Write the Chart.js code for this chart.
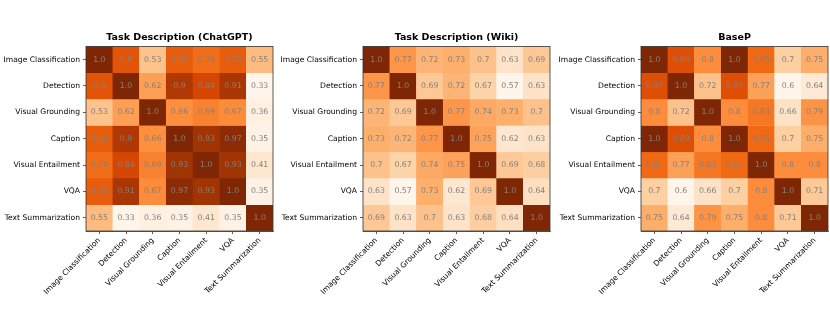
<!DOCTYPE html>
<html>
<head>
<meta charset="utf-8">
<script src="https://cdn.jsdelivr.net/npm/chart.js@4.4.0/dist/chart.umd.min.js"></script>
<style>
    html, body { margin: 0; padding: 0; background: #fff; overflow: hidden; }
    .panel { position: absolute; top: 0; }
</style>
</head>
<body>
<canvas id="chatgpt-chart" class="panel" width="275" height="310" style="left:0px"></canvas>
<canvas id="wiki-chart" class="panel" width="275" height="310" style="left:277px"></canvas>
<canvas id="basep-chart" class="panel" width="275" height="310" style="left:555px"></canvas>
<script>
const tasks = ['Image Classification', 'Detection', 'Visual Grounding', 'Caption', 'Visual Entailment', 'VQA', 'Text Summarization'];

const chatgptValues = [
    [1.0, 0.8, 0.53, 0.78, 0.74, 0.78, 0.55],
    [0.8, 1.0, 0.62, 0.9, 0.84, 0.91, 0.33],
    [0.53, 0.62, 1.0, 0.66, 0.69, 0.67, 0.36],
    [0.78, 0.9, 0.66, 1.0, 0.93, 0.97, 0.35],
    [0.74, 0.84, 0.69, 0.93, 1.0, 0.93, 0.41],
    [0.78, 0.91, 0.67, 0.97, 0.93, 1.0, 0.35],
    [0.55, 0.33, 0.36, 0.35, 0.41, 0.35, 1.0]
];

const wikiValues = [
    [1.0, 0.77, 0.72, 0.73, 0.7, 0.63, 0.69],
    [0.77, 1.0, 0.69, 0.72, 0.67, 0.57, 0.63],
    [0.72, 0.69, 1.0, 0.77, 0.74, 0.73, 0.7],
    [0.73, 0.72, 0.77, 1.0, 0.75, 0.62, 0.63],
    [0.7, 0.67, 0.74, 0.75, 1.0, 0.69, 0.68],
    [0.63, 0.57, 0.73, 0.62, 0.69, 1.0, 0.64],
    [0.69, 0.63, 0.7, 0.63, 0.68, 0.64, 1.0]
];

const basepValues = [
    [1.0, 0.89, 0.8, 1.0, 0.85, 0.7, 0.75],
    [0.89, 1.0, 0.72, 0.89, 0.77, 0.6, 0.64],
    [0.8, 0.72, 1.0, 0.8, 0.83, 0.66, 0.79],
    [1.0, 0.89, 0.8, 1.0, 0.85, 0.7, 0.75],
    [0.85, 0.77, 0.83, 0.85, 1.0, 0.8, 0.8],
    [0.7, 0.6, 0.66, 0.7, 0.8, 1.0, 0.71],
    [0.75, 0.64, 0.79, 0.75, 0.8, 0.71, 1.0]
];

const panelTitles = ['Task Description (ChatGPT)', 'Task Description (Wiki)', 'BaseP'];

// matplotlib "Oranges" colormap stops
const orangeStops = ['#fff5eb', '#fee6ce', '#fdd0a2', '#fdae6b', '#fd8d3c', '#f16913', '#d94801', '#a63603', '#7f2704'];

function hexToRgb(h) {
    return [parseInt(h.slice(1, 3), 16), parseInt(h.slice(3, 5), 16), parseInt(h.slice(5, 7), 16)];
}

function oranges(t) {
    t = Math.max(0, Math.min(1, t));
    const pos = t * (orangeStops.length - 1);
    const i = Math.min(Math.floor(pos), orangeStops.length - 2);
    const f = pos - i;
    const a = hexToRgb(orangeStops[i]);
    const b = hexToRgb(orangeStops[i + 1]);
    const c = a.map((v, k) => Math.round(v + (b[k] - v) * f));
    return `rgb(${c[0]}, ${c[1]}, ${c[2]})`;
}

function formatValue(v) {
    return Number.isInteger(v) ? v.toFixed(1) : String(v);
}

Chart.defaults.font.family = "'DejaVu Sans', sans-serif";
Chart.defaults.color = '#000';

// cell numbers + top/right frame
const cellTextPlugin = {
    id: 'cellText',
    afterDatasetsDraw(chart, args, opts) {
        const { ctx, chartArea, scales } = chart;
        const matrix = opts.matrix;
        ctx.save();
        ctx.font = "7.8px 'DejaVu Sans', sans-serif";
        ctx.fillStyle = '#808080';
        ctx.textAlign = 'center';
        ctx.textBaseline = 'middle';
        matrix.forEach((row, r) => {
            row.forEach((v, c) => {
                const x = scales.x.getPixelForValue(c);
                const y = scales.y.getPixelForValue(r + 0.5);
                ctx.fillText(formatValue(v), x, y);
            });
        });
        ctx.strokeStyle = '#333';
        ctx.lineWidth = 0.8;
        ctx.strokeRect(chartArea.left, chartArea.top, chartArea.right - chartArea.left, chartArea.bottom - chartArea.top);
        ctx.restore();
    }
};

function makeHeatmap(canvasId, title, matrix) {
    const flat = matrix.flat();
    const lo = Math.min(...flat);
    const hi = Math.max(...flat);

    const datasets = matrix.map((row, r) => ({
        label: tasks[r],
        data: row.map(() => [r, r + 1]),
        backgroundColor: row.map(v => oranges((v - lo) / (hi - lo))),
        borderColor: row.map(v => oranges((v - lo) / (hi - lo))),
        borderWidth: 0.5,
        borderSkipped: false,
        grouped: false,
        barPercentage: 1,
        categoryPercentage: 1
    }));

    new Chart(document.getElementById(canvasId), {
        type: 'bar',
        data: { labels: tasks, datasets: datasets },
        plugins: [cellTextPlugin],
        options: {
            responsive: false,
            animation: false,
            layout: { padding: { left: 0, right: 2, top: 0, bottom: 0 } },
            scales: {
                x: {
                    type: 'category',
                    offset: true,
                    grid: { offset: false, drawOnChartArea: false, drawTicks: true, tickLength: 3, color: '#333', lineWidth: 0.8 },
                    border: { display: true, color: '#333', width: 0.8 },
                    ticks: { autoSkip: false, maxRotation: 45, minRotation: 45, padding: 2, font: { size: 7.6 }, color: '#000' },
                    afterFit(scale) { scale.height = 79; }
                },
                y: {
                    type: 'linear',
                    min: 0,
                    max: 7,
                    reverse: true,
                    afterBuildTicks(scale) {
                        scale.ticks = tasks.map((t, i) => ({ value: i + 0.5 }));
                    },
                    grid: { drawOnChartArea: false, drawTicks: true, tickLength: 3, color: '#333', lineWidth: 0.8 },
                    border: { display: true, color: '#333', width: 0.8 },
                    ticks: {
                        padding: 3,
                        font: { size: 7.6 },
                        color: '#000',
                        callback: (value) => tasks[Math.floor(value)]
                    },
                    afterFit(scale) { scale.width = 86; }
                }
            },
            plugins: {
                legend: { display: false },
                tooltip: { enabled: false },
                title: {
                    display: true,
                    text: title,
                    fullSize: false,
                    color: '#000',
                    font: { size: 9.5, weight: 'bold' },
                    padding: { top: 32, bottom: 3 }
                },
                cellText: { matrix: matrix }
            }
        }
    });
}

document.addEventListener('DOMContentLoaded', () => {
    makeHeatmap('chatgpt-chart', panelTitles[0], chatgptValues);
    makeHeatmap('wiki-chart', panelTitles[1], wikiValues);
    makeHeatmap('basep-chart', panelTitles[2], basepValues);
});
</script>
</body>
</html>
